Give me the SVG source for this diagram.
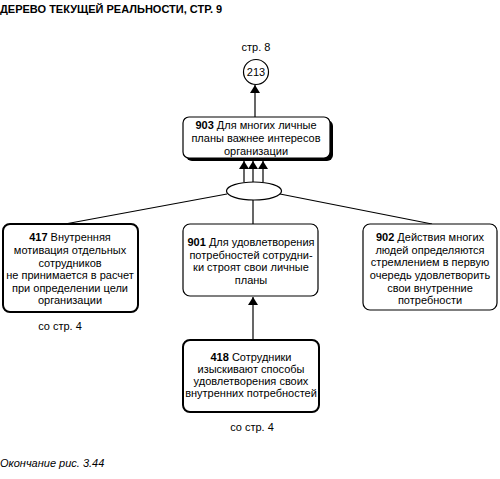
<svg xmlns="http://www.w3.org/2000/svg" width="500" height="479" viewBox="0 0 500 479">
<style>
text{font-family:"Liberation Sans",Arial,sans-serif;font-size:11px;fill:#000}
.c{text-anchor:middle}
.b{font-weight:bold}
.box{fill:#fff;stroke:#000;stroke-width:1.2}
.thick{fill:#fff;stroke:#000;stroke-width:2}
.ln{stroke:#000;stroke-width:1.2;fill:none}
</style>
<defs>
<marker id="ah" viewBox="0 0 8 10" refX="8" refY="5" markerWidth="8" markerHeight="10" markerUnits="userSpaceOnUse" orient="auto">
<path d="M0,0 L8,5 L0,10 Z" fill="#000"/>
</marker>
</defs>
<rect width="500" height="479" fill="#fff"/>
<text x="0" y="13" class="b" font-size="10">ДЕРЕВО ТЕКУЩЕЙ РЕАЛЬНОСТИ, СТР. 9</text>

<g id="connectors">
<line class="ln" x1="255" y1="117" x2="255" y2="85" marker-end="url(#ah)"/>
<line class="ln" x1="244" y1="182" x2="244" y2="161" marker-end="url(#ah)"/>
<line class="ln" x1="253" y1="182" x2="253" y2="161" marker-end="url(#ah)"/>
<line class="ln" x1="263" y1="182" x2="263" y2="161" marker-end="url(#ah)"/>
<line class="ln" x1="227" y1="194" x2="65" y2="224"/>
<line class="ln" x1="280" y1="194" x2="432" y2="224"/>
<line class="ln" x1="253" y1="200" x2="253" y2="224"/>
<line class="ln" x1="253" y1="340" x2="253" y2="297" marker-end="url(#ah)"/>
</g>

<g id="n213">
<text x="256" y="51" class="c">стр. 8</text>
<circle cx="256" cy="72" r="12.5" class="box"/>
<text x="256" y="76" class="c">213</text>
</g>

<g id="n903">
<rect x="186" y="120" width="147" height="41" rx="6" fill="#000"/>
<rect x="183" y="117" width="147" height="41" rx="6" class="box" stroke-width="1.5"/>
<text x="256" y="129" class="c"><tspan class="b">903</tspan> Для многих личные</text>
<text x="256" y="142" class="c">планы важнее интересов</text>
<text x="256" y="155" class="c">организации</text>
</g>

<g id="and">
<ellipse cx="254" cy="191" rx="27.5" ry="9" class="box"/>
</g>

<g id="n417">
<rect x="3" y="224" width="135" height="88" rx="7" class="thick"/>
<text x="70" y="241" class="c"><tspan class="b">417</tspan> Внутренняя</text>
<text x="70" y="254" class="c">мотивация отдельных</text>
<text x="70" y="267" class="c">сотрудников</text>
<text x="70" y="279" class="c">не принимается в расчет</text>
<text x="70" y="292" class="c">при определении цели</text>
<text x="70" y="304" class="c">организации</text>
<text x="60" y="330" class="c">со стр. 4</text>
</g>

<g id="n901">
<rect x="183" y="224" width="135" height="72" rx="7" class="box"/>
<text x="251" y="246" class="c"><tspan class="b">901</tspan> Для удовлетворения</text>
<text x="251" y="259" class="c">потребностей сотрудни-</text>
<text x="251" y="271" class="c">ки строят свои личные</text>
<text x="251" y="284" class="c">планы</text>
</g>

<g id="n902">
<rect x="363" y="224" width="134" height="86" rx="7" class="box"/>
<text x="430" y="241" class="c"><tspan class="b">902</tspan> Действия многих</text>
<text x="430" y="254" class="c">людей определяются</text>
<text x="430" y="266" class="c">стремлением в первую</text>
<text x="430" y="279" class="c">очередь удовлетворить</text>
<text x="430" y="292" class="c">свои внутренние</text>
<text x="430" y="304" class="c">потребности</text>
</g>

<g id="n418">
<rect x="183" y="340" width="136" height="72" rx="7" class="thick"/>
<text x="251" y="361" class="c"><tspan class="b">418</tspan> Сотрудники</text>
<text x="251" y="373" class="c">изыскивают способы</text>
<text x="251" y="385" class="c">удовлетворения своих</text>
<text x="251" y="397" class="c">внутренних потребностей</text>
<text x="252" y="431" class="c">со стр. 4</text>
</g>

<text x="0" y="467" font-style="italic" font-size="13">Окончание рис. 3.44</text>
</svg>
